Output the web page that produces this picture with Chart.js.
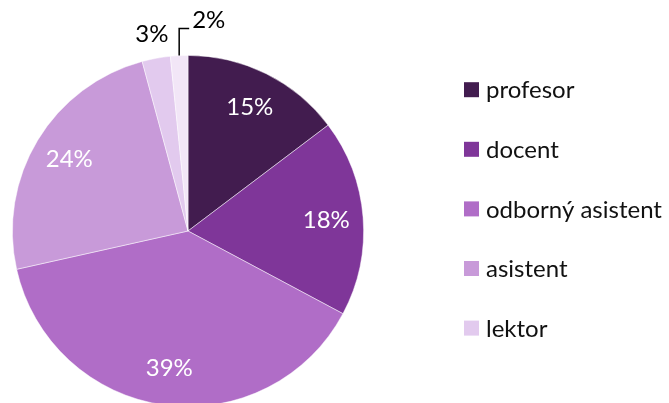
<!DOCTYPE html>
<html lang="cs">
<head>
<meta charset="UTF-8">
<script src="https://cdn.jsdelivr.net/npm/chart.js"></script>
<style>
  html, body { margin: 0; padding: 0; background: #fff; overflow: hidden; }
  #box { width: 669px; height: 420px; }
</style>
<title>Struktura pracovníků</title>
</head>
<body>
<div id="box"><canvas id="pie" width="669" height="420"></canvas></div>
<script>
var categories = ['profesor', 'docent', 'odborný asistent', 'asistent', 'lektor', 'ostatní'];
var values = [14.7, 18.1, 38.7, 24.3, 2.6, 1.6];
var colors = ['#421c4f', '#7f3699', '#b06dc7', '#c89ad9', '#e2caee', '#f2e6f7'];
var legendCount = 5; // posledni polozka se v legende neukazuje

var FONT = 'Lato';
var total = values.reduce(function (a, b) { return a + b; }, 0);

// procenta do/vedle vysecí
var pctLabels = {
  id: 'pctLabels',
  afterDatasetsDraw: function (chart) {
    var ctx = chart.ctx;
    var meta = chart.getDatasetMeta(0);
    ctx.save();
    ctx.font = '24px ' + FONT;
    meta.data.forEach(function (arc, i) {
      var p = arc.getProps(['x', 'y', 'startAngle', 'endAngle', 'outerRadius'], true);
      var mid = (p.startAngle + p.endAngle) / 2;
      var pct = Math.round(values[i] / total * 100) + '%';
      var cos = Math.cos(mid), sin = Math.sin(mid);
      if (values[i] / total >= 0.05) {
        var r = p.outerRadius * 0.79;
        ctx.fillStyle = '#ffffff';
        ctx.textAlign = 'center';
        ctx.textBaseline = 'middle';
        ctx.fillText(pct, p.x + cos * r, p.y + sin * r);
      } else if (i < meta.data.length - 1) {
        var r2 = p.outerRadius + 24;
        ctx.fillStyle = '#000000';
        ctx.textAlign = 'center';
        ctx.textBaseline = 'middle';
        ctx.fillText(pct, p.x + cos * r2, p.y + sin * r2);
      } else {
        // odkazova cara
        var x0 = p.x + cos * p.outerRadius;
        var y0 = p.y + sin * p.outerRadius;
        ctx.strokeStyle = '#000000';
        ctx.lineWidth = 1.5;
        ctx.beginPath();
        ctx.moveTo(x0, y0);
        ctx.lineTo(x0, y0 - 27);
        ctx.lineTo(x0 + 10, y0 - 27);
        ctx.stroke();
        ctx.fillStyle = '#000000';
        ctx.textAlign = 'left';
        ctx.textBaseline = 'middle';
        ctx.fillText(pct, x0 + 13, y0 - 35);
      }
    });
    ctx.restore();
  }
};

// legenda vpravo
var sideLegend = {
  id: 'sideLegend',
  afterDraw: function (chart) {
    var ctx = chart.ctx;
    var items = chart.options.plugins.legend.labels.generateLabels(chart);
    ctx.save();
    ctx.font = '24px ' + FONT;
    ctx.textBaseline = 'middle';
    ctx.textAlign = 'left';
    for (var i = 0; i < legendCount; i++) {
      var y = 89.7 + i * 59.6;
      ctx.fillStyle = items[i].fillStyle;
      ctx.fillRect(464, y - 7.5, 15, 15);
      ctx.fillStyle = '#111111';
      ctx.fillText(items[i].text, 486, y + 1);
    }
    ctx.restore();
  }
};

var config = {
  type: 'pie',
  data: {
    labels: categories,
    datasets: [{
      data: values,
      backgroundColor: colors,
      borderColor: 'rgba(255,255,255,0.6)',
      borderWidth: 0.8
    }]
  },
  options: {
    responsive: false,
    animation: false,
    layout: {
      padding: { left: 12, top: 55, right: 305, bottom: 13 }
    },
    plugins: {
      legend: { display: false },
      tooltip: { enabled: false }
    }
  },
  plugins: [pctLabels, sideLegend]
};

var myChart = new Chart(document.getElementById('pie'), config);
</script>
</body>
</html>
